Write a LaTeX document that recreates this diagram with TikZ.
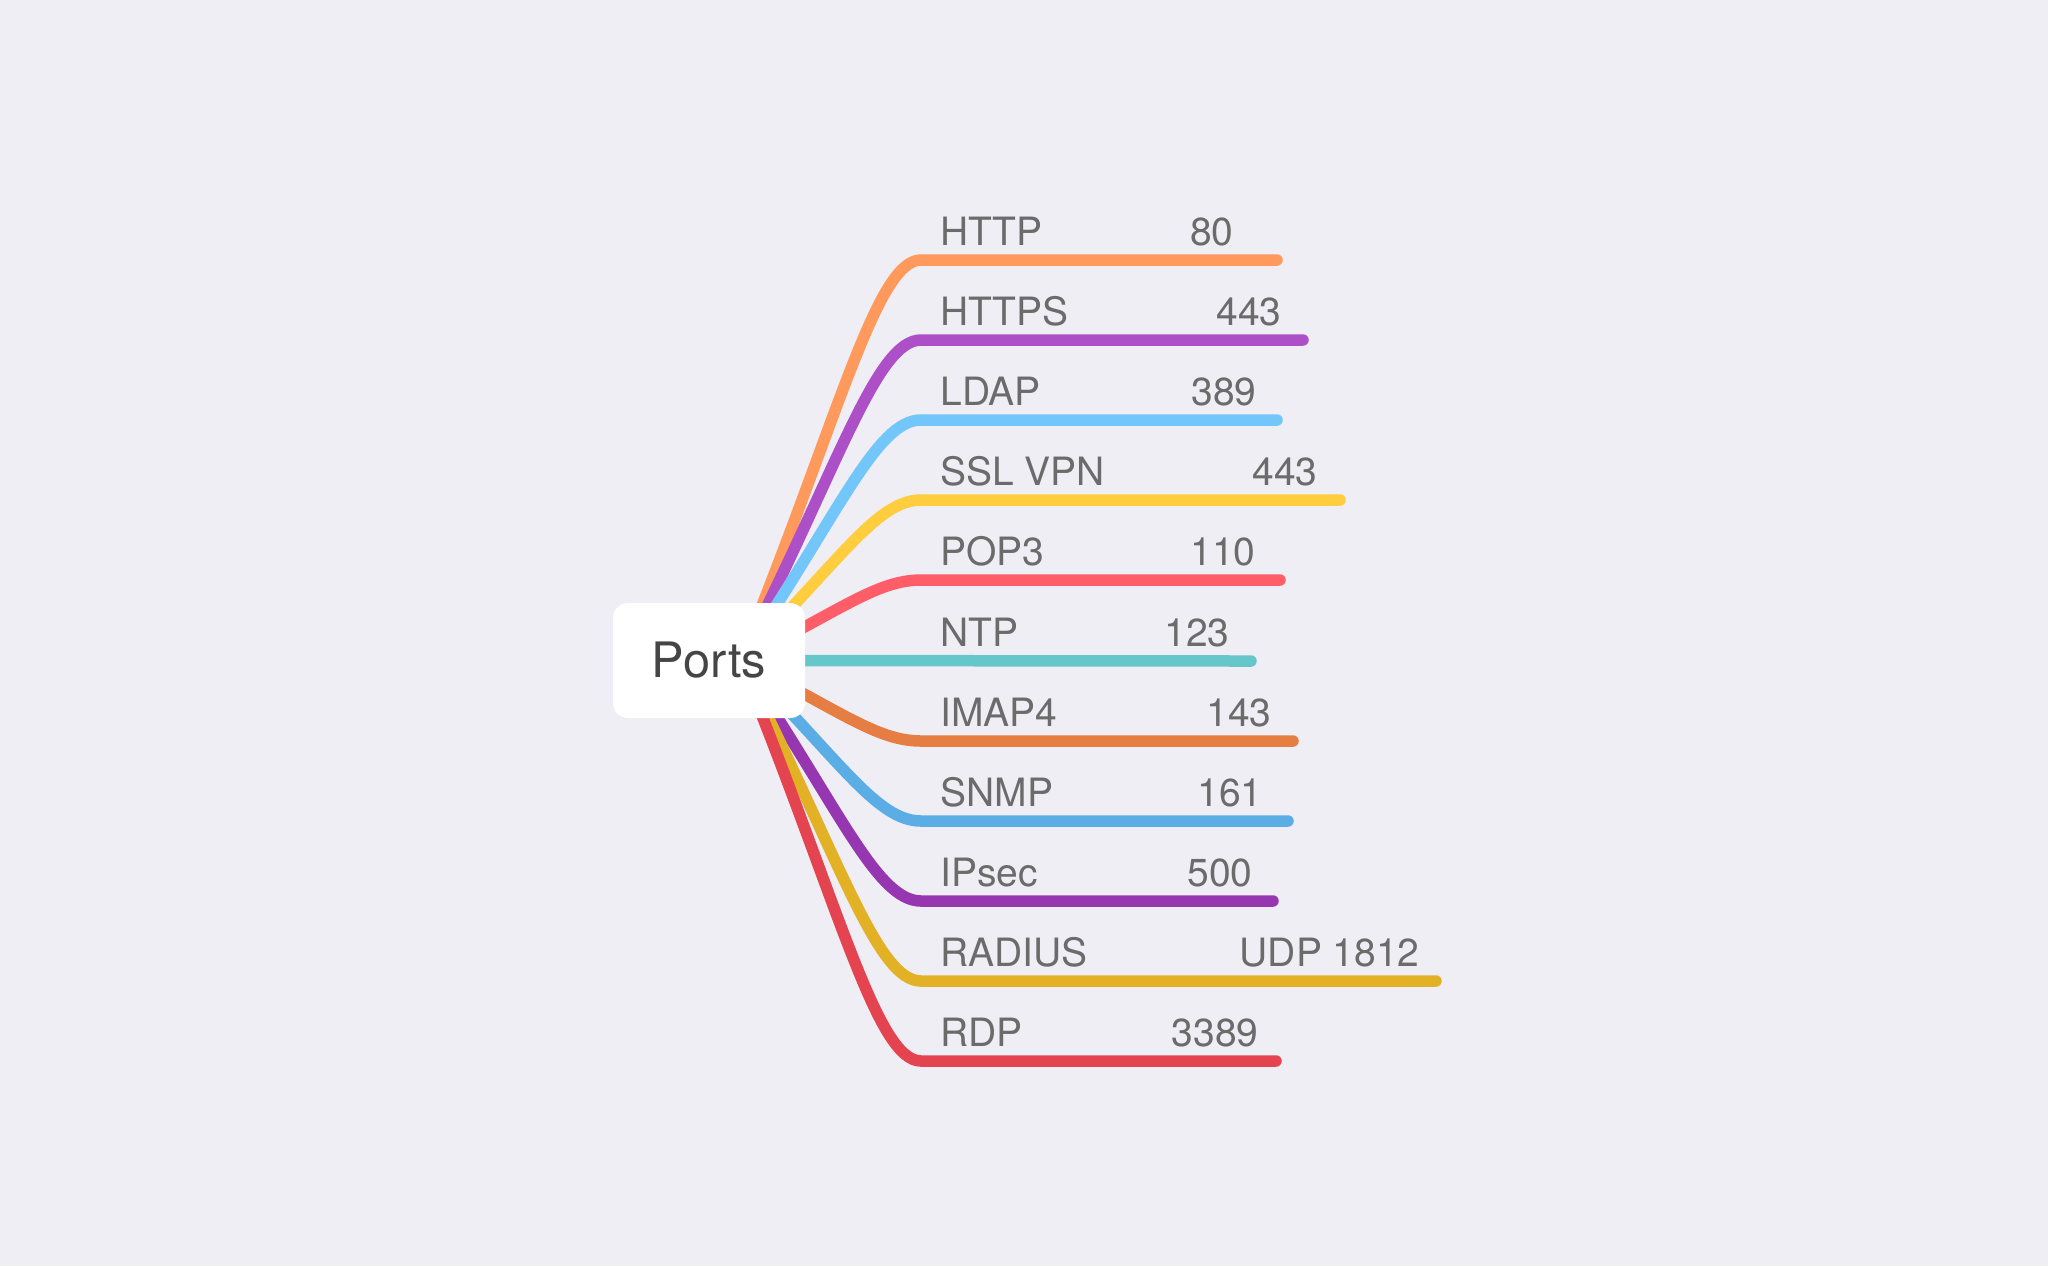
\documentclass[tikz,border=0pt]{standalone}
\usepackage{fontspec}
\setmainfont{TeX Gyre Heros}
\definecolor{bgc}{HTML}{EFEEF4}
\definecolor{txt}{HTML}{6B6B6B}
\definecolor{ptxt}{HTML}{454545}
\definecolor{chttp}{HTML}{FF9A5C}
\definecolor{chttps}{HTML}{AD4FC6}
\definecolor{cldap}{HTML}{73C6FA}
\definecolor{cssl}{HTML}{FFCD3D}
\definecolor{cpop}{HTML}{FF5E69}
\definecolor{cntp}{HTML}{66C7CB}
\definecolor{cimap}{HTML}{E67D43}
\definecolor{csnmp}{HTML}{5AAEE5}
\definecolor{cipsec}{HTML}{9636B0}
\definecolor{cradius}{HTML}{E3B126}
\definecolor{crdp}{HTML}{E4444F}
\pgfdeclarelayer{back}
\pgfsetlayers{back,main}
\begin{document}
\begin{tikzpicture}[x=0.5pt,y=-0.5pt,
  branch/.style={line width=5.75pt,line cap=round},
  lbl/.style={text=txt,font=\fontsize{19.5}{20}\selectfont,inner sep=0pt},
  box/.style={fill=white,rounded corners=7.5pt,minimum width=96pt,minimum height=57.5pt,inner sep=0pt,text=ptxt,font=\fontsize{24.4}{26}\selectfont}]
\useasboundingbox (0,0) rectangle (2048,1266);
\node [box] (ports) at (709,660.5) {Ports};
\coordinate (hub) at ([xshift=15.5pt]ports.center);
\coordinate (httpe) at (1277,260);
\coordinate (httpse) at (1303,340);
\coordinate (ldape) at (1277,420);
\coordinate (sslvpne) at (1340,500);
\coordinate (pop3e) at (1280,580);
\coordinate (ntpe) at (1251,661);
\coordinate (imap4e) at (1293,741);
\coordinate (snmpe) at (1288,821);
\coordinate (ipsece) at (1273,901);
\coordinate (radiuse) at (1436,981);
\coordinate (rdpe) at (1276,1061);
\begin{pgfonlayer}{back}
\fill [bgc] (0,0) rectangle (2048,1266);
\draw [branch,chttp] (hub) .. controls (838,420.4) and (876,260) .. (921,260) -- (httpe);
\draw [branch,chttps] (hub) .. controls (838,468.4) and (876,340) .. (921,340) -- (httpse);
\draw [branch,cldap] (hub) .. controls (838,516.4) and (876,420) .. (921,420) -- (ldape);
\draw [branch,cssl] (hub) .. controls (838,564.4) and (876,500) .. (921,500) -- (sslvpne);
\draw [branch,cpop] (hub) .. controls (838,612.4) and (876,580) .. (921,580) -- (pop3e);
\draw [branch,cntp] (hub) -- (ntpe);
\draw [branch,cimap] (hub) .. controls (838,709) and (876,741) .. (921,741) -- (imap4e);
\draw [branch,csnmp] (hub) .. controls (838,757) and (876,821) .. (921,821) -- (snmpe);
\draw [branch,cipsec] (hub) .. controls (838,805) and (876,901) .. (921,901) -- (ipsece);
\draw [branch,cradius] (hub) .. controls (838,853) and (876,981) .. (921,981) -- (radiuse);
\draw [branch,crdp] (hub) .. controls (838,901) and (876,1061) .. (921,1061) -- (rdpe);
\end{pgfonlayer}
\node [lbl,anchor=base west] (http) at (940,245.5) {HTTP};
\node [lbl,anchor=base east] (httpport) at (1234,245.5) {80};
\node [lbl,anchor=base west] (https) at (940,325.5) {HTTPS};
\node [lbl,anchor=base east] (httpsport) at (1282,325.5) {443};
\node [lbl,anchor=base west] (ldap) at (940,405.5) {LDAP};
\node [lbl,anchor=base east] (ldapport) at (1257,405.5) {389};
\node [lbl,anchor=base west] (sslvpn) at (940,485.5) {SSL VPN};
\node [lbl,anchor=base east] (sslvpnport) at (1318,485.5) {443};
\node [lbl,anchor=base west] (pop3) at (940,565.5) {POP3};
\node [lbl,anchor=base east] (pop3port) at (1256,565.5) {110};
\node [lbl,anchor=base west] (ntp) at (940,646.5) {NTP};
\node [lbl,anchor=base east] (ntpport) at (1230,646.5) {123};
\node [lbl,anchor=base west] (imap4) at (940,726.5) {IMAP4};
\node [lbl,anchor=base east] (imap4port) at (1272,726.5) {143};
\node [lbl,anchor=base west] (snmp) at (940,806.5) {SNMP};
\node [lbl,anchor=base east] (snmpport) at (1263,806.5) {161};
\node [lbl,anchor=base west] (ipsec) at (940,886.5) {IPsec};
\node [lbl,anchor=base east] (ipsecport) at (1253,886.5) {500};
\node [lbl,anchor=base west] (radius) at (940,966.5) {RADIUS};
\node [lbl,anchor=base east] (radiusport) at (1420,966.5) {UDP 1812};
\node [lbl,anchor=base west] (rdp) at (940,1046.5) {RDP};
\node [lbl,anchor=base east] (rdpport) at (1259,1046.5) {3389};
\end{tikzpicture}
\end{document}
